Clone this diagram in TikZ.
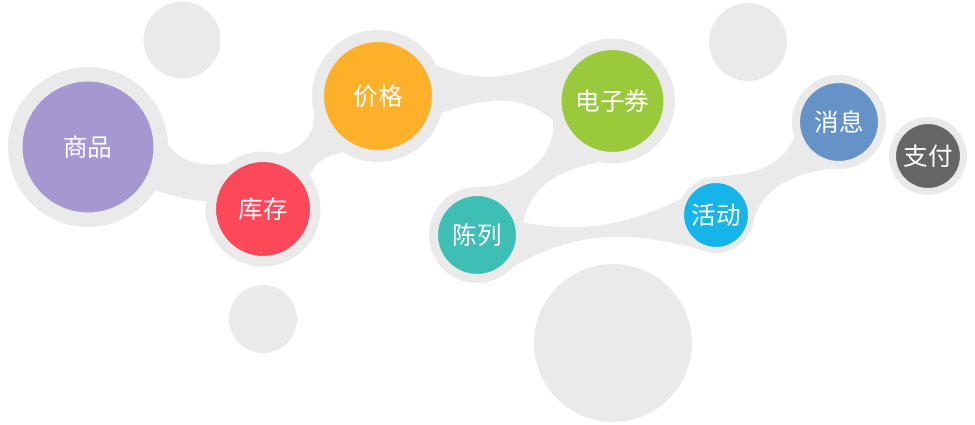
\documentclass[tikz,border=0pt]{standalone}
\usepackage{fontspec}
\newfontfamily\cjk{Noto Sans CJK SC}
\usetikzlibrary{backgrounds}
\definecolor{ringgray}{HTML}{EAEAEA}
\definecolor{cshop}{HTML}{A597D0}
\definecolor{cstock}{HTML}{FC4859}
\definecolor{cprice}{HTML}{FDB02A}
\definecolor{ccoupon}{HTML}{9AC93C}
\definecolor{cdisplay}{HTML}{3DBFB5}
\definecolor{cpromo}{HTML}{17B4E9}
\definecolor{cmsg}{HTML}{6593C8}
\definecolor{cpay}{HTML}{656565}

\begin{document}
\begin{tikzpicture}[
    x=0.02cm, y=-0.02cm,
    bub/.style n args={3}{circle, fill=#1, draw=ringgray,
                minimum size={(#2+#3)*0.02cm}, line width={(#3-#2)*0.02cm},
                inner sep=0pt, text=white, font=\cjk\fontsize{14}{16}\selectfont},
    blob/.style={circle, fill=ringgray, inner sep=0pt, minimum size={#1*0.04cm}},
    band/.style={fill=ringgray}
  ]
  \useasboundingbox (0,0) rectangle (975,425);

  % grey spots
  \node[blob=38.5] (spotA) at (182,40)  {};
  \node[blob=34]   (spotB) at (263,319) {};
  \node[blob=39]   (spotC) at (748,42)  {};
  \node[blob=79]   (spotD) at (613,343) {};

  % bubbles: colour, inner radius, ring radius
  \node[bub={cshop}{65.5}{80}]     (shop)    at (88,147)    {商品};
  \node[bub={cstock}{47}{57.5}]    (stock)   at (263,209)   {库存};
  \node[bub={cprice}{54}{66}]      (price)   at (378,96)    {价格};
  \node[bub={ccoupon}{51}{62.5}]   (coupon)  at (612.5,101) {电子券};
  \node[bub={cdisplay}{39}{48}]    (display) at (477,235)   {陈列};
  \node[bub={cpromo}{32}{38}]      (promo)   at (716,215)   {活动};
  \node[bub={cmsg}{39}{47}]        (msg)     at (839,122)   {消息};
  \node[bub={cpay}{32}{39}]        (pay)     at (928,156)   {支付};

  % links between bubbles
  \begin{pgfonlayer}{background}
    \fill[band] (shop.2) to[out=-55, in=185] (stock.128)
                -- (stock.172) to[out=178, in=-15] (shop.-33) -- cycle;
    \fill[band] (stock.72) to[out=15, in=-85] (price.195)
                -- (price.238) to[out=195, in=75] (stock.35) -- cycle;
    \fill[band] (price.28) to[out=-25, in=200] (coupon.135)
                -- (coupon.198) to[out=140, in=20] (price.-15) -- cycle;
    \fill[band] (coupon.198) to[out=-85, in=0] (display.88)
                -- (display.15) to[out=80, in=190] (coupon.258) -- cycle;
    \fill[band] (display.15) to[out=-10, in=205] (promo.155)
                -- (promo.-115) to[out=165, in=30] (display.-42) -- cycle;
    \fill[band] (promo.90) to[out=5, in=250] (msg.198)
                -- (msg.262) to[out=188, in=70] (promo.-5) -- cycle;
  \end{pgfonlayer}
\end{tikzpicture}
\end{document}
